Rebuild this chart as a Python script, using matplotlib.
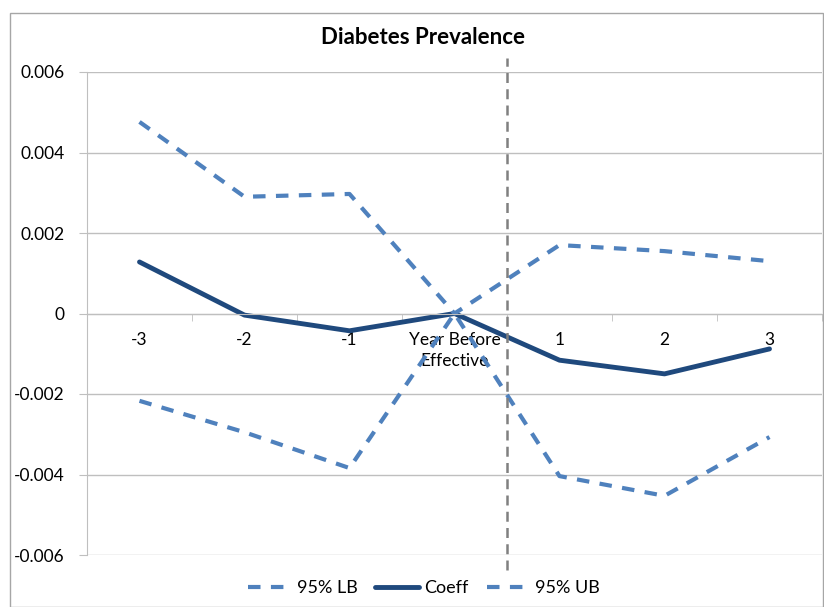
import matplotlib.pyplot as plt
from matplotlib.ticker import FixedLocator, NullFormatter

plt.rcParams['font.family'] = ['Lato', 'DejaVu Sans']

categories = ['-3', '-2', '-1', 'Year Before\nEffective', '1', '2', '3']
lb = [-0.00217, -0.00295, -0.00384, 0.0, -0.00404, -0.00453, -0.00307]
coeff = [0.00128, -0.00004, -0.00043, 0.0, -0.00116, -0.00150, -0.00088]
ub = [0.00476, 0.00290, 0.00297, 0.0, 0.00170, 0.00155, 0.00130]
y_ticks = [-0.006, -0.004, -0.002, 0, 0.002, 0.004, 0.006]
y_labels = ['-0.006', '-0.004', '-0.002', '0', '0.002', '0.004', '0.006']

dash_col = '#4F81BD'
solid_col = '#1F497D'
grid_col = '#BFBFBF'

fig = plt.figure(figsize=(8.24, 6.07), dpi=100)
ax = fig.add_axes([87 / 824, 1 - 555 / 607, (822 - 87) / 824, (555 - 72) / 607])

x = range(len(categories))
ax.plot(x, lb, color=dash_col, lw=3, dashes=(3, 2.5), label='95% LB')
ax.plot(x, coeff, color=solid_col, lw=3.5, label='Coeff', solid_capstyle='round')
ax.plot(x, ub, color=dash_col, lw=3, dashes=(3, 2.5), label='95% UB')

# policy change marker between "Year Before" and year 1
ax.axvline(3.5, ymin=-0.031, ymax=1.029, color='#808080', lw=1.8,
           dashes=(4, 2.5), clip_on=False, zorder=5)

ax.set_xlim(-0.5, 6.5)
ax.set_ylim(-0.006, 0.006)
ax.set_yticks(y_ticks)
ax.set_yticklabels(y_labels, fontsize=12.5)
ax.yaxis.grid(True, color=grid_col, lw=1)
ax.set_axisbelow(True)

ax.spines['bottom'].set_position(('data', 0))
for s in ['top', 'right']:
    ax.spines[s].set_visible(False)
for s in ['left', 'bottom']:
    ax.spines[s].set_color(grid_col)

ax.set_xticks(list(x))
ax.set_xticklabels(categories, fontsize=12.5, linespacing=1.45)
ax.tick_params(axis='x', which='major', length=0, pad=13)
ax.xaxis.set_minor_locator(FixedLocator([i - 0.5 for i in range(8)]))
ax.xaxis.set_minor_formatter(NullFormatter())
ax.tick_params(axis='x', which='minor', length=5, color=grid_col, direction='out')
ax.tick_params(axis='y', length=6, color=grid_col, pad=10)

fig.text(0.513, 1 - 38 / 607, 'Diabetes Prevalence', ha='center', va='center',
         fontsize=16, fontweight='bold')

fig.legend(loc='center', bbox_to_anchor=(424 / 824, 1 - 588 / 607), ncol=3,
           frameon=False, fontsize=13, handlelength=2.4, handletextpad=0.3,
           columnspacing=1.0)

# outer chart border
fig.add_artist(plt.Rectangle((10 / 824, 0), 1 - 10 / 824 - 0.001, 1 - 12 / 607 - 0.001,
                             transform=fig.transFigure, fill=False,
                             edgecolor='#A6A6A6', lw=1))

fig.savefig('out.png', dpi=100)
